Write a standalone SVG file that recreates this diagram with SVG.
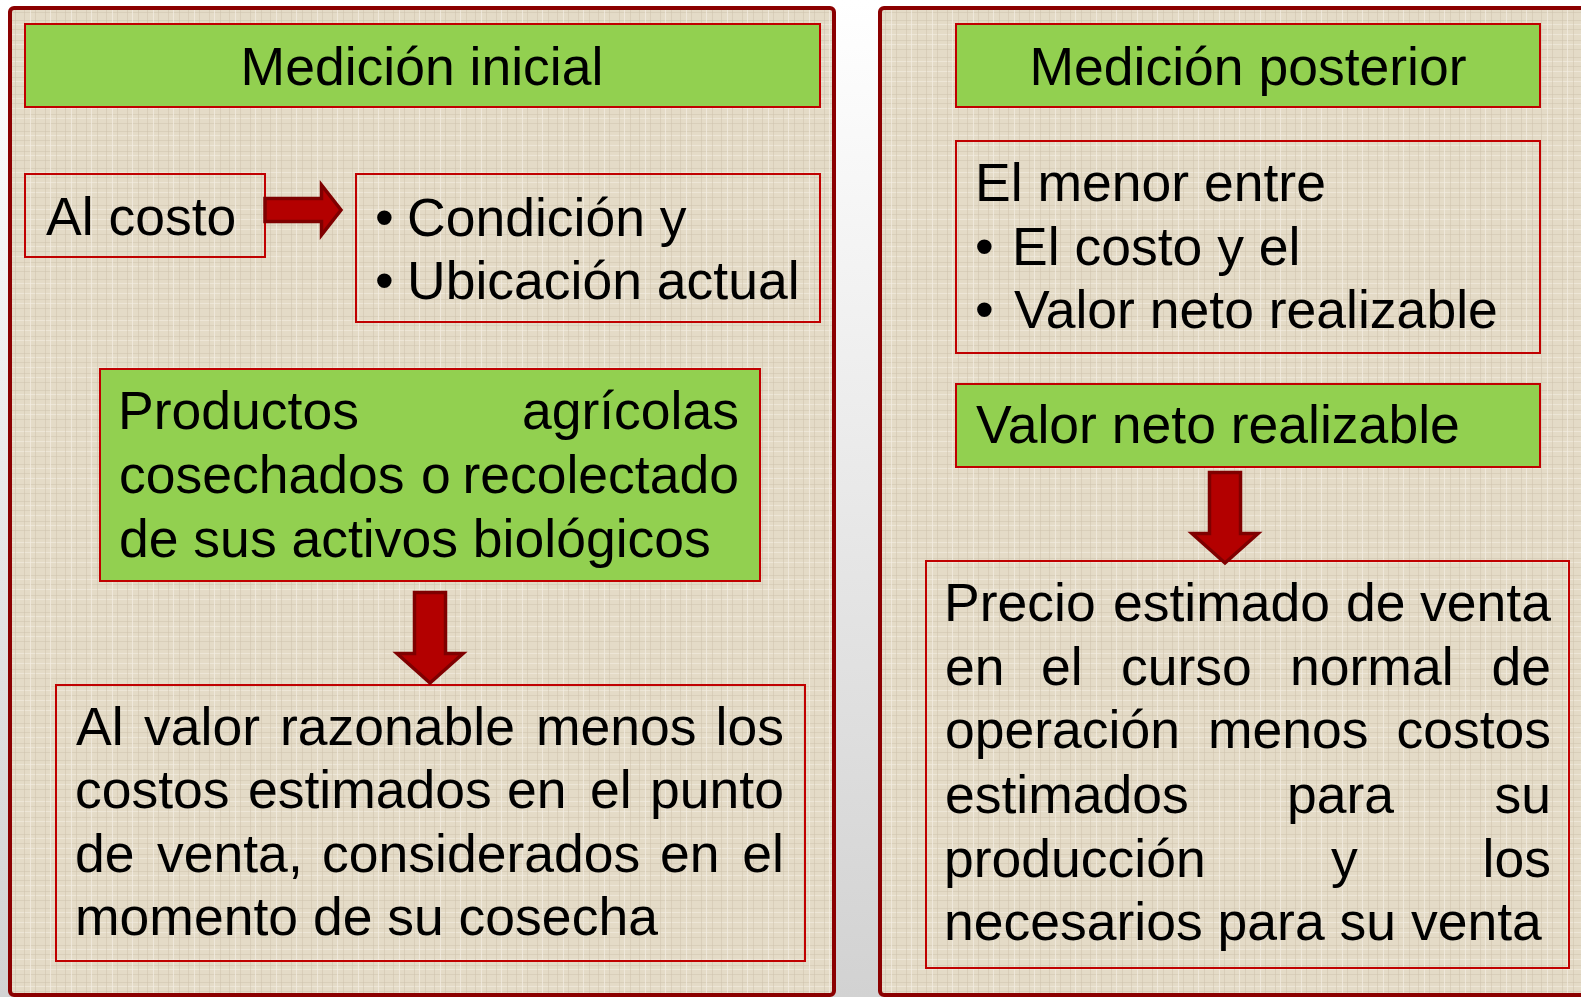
<svg xmlns="http://www.w3.org/2000/svg" width="1581" height="997" viewBox="0 0 1581 997">
<defs>
<linearGradient id="bg" x1="0" y1="0" x2="0" y2="1">
<stop offset="0" stop-color="#ffffff"/>
<stop offset="1" stop-color="#d2d2d2"/>
</linearGradient>
<pattern id="linen" x="0" y="0" width="41" height="37" patternUnits="userSpaceOnUse">
<rect width="41" height="37" fill="#E4DBC7"/>
<g stroke-width="1" fill="none">
<path d="M0 3.5H41M0 12.5H41M0 20.5H41M0 29.5H41" stroke="#CFC4AE" stroke-opacity="0.55"/>
<path d="M0 7.5H41M0 24.5H41M0 34.5H41" stroke="#F2ECDF" stroke-opacity="0.7"/>
<path d="M4.5 0V37M15.5 0V37M24.5 0V37M35.5 0V37" stroke="#CDC2AB" stroke-opacity="0.5"/>
<path d="M9.5 0V37M30.5 0V37" stroke="#F4EFE4" stroke-opacity="0.7"/>
</g>
</pattern>
</defs>
<style>
.panel{fill:url(#linen);stroke:#8B0000;stroke-width:4}
.box{fill:none;stroke:#C00000;stroke-width:2}
.gbox{fill:#92D050;stroke:#C00000;stroke-width:2}
.t{font-family:"Liberation Sans",Arial,sans-serif;font-size:53.5px;fill:#000}
.e{text-anchor:end}
.m{text-anchor:middle}
.arrow{fill:#B30000;stroke:#7F0000;stroke-width:3.5;stroke-linejoin:miter}
</style>
<rect width="1581" height="997" fill="url(#bg)"/>
<g id="panel-left">
<rect class="panel" x="10" y="8" width="824" height="987" rx="4"/>
</g>
<g id="panel-right">
<rect class="panel" x="880" y="8" width="760" height="987" rx="4"/>
</g>
<g id="node-medicion-inicial">
<rect class="gbox" x="25" y="24" width="795" height="83"/>
<text class="t m" x="422" y="85">Medición inicial</text>
</g>
<g id="node-al-costo">
<rect class="box" x="25" y="174" width="240" height="83"/>
<text class="t" x="46" y="235">Al costo</text>
</g>
<g id="node-condicion">
<rect class="box" x="356" y="174" width="464" height="148"/>
<text class="t" x="375" y="236">•</text>
<text class="t" x="407" y="236">Condición y</text>
<text class="t" x="375" y="299">•</text>
<text class="t" x="407" y="299">Ubicación actual</text>
</g>
<g id="node-productos">
<rect class="gbox" x="100" y="369" width="660" height="212"/>
<text class="t" x="118" y="429">Productos</text>
<text class="t e" x="739" y="429">agrícolas</text>
<text class="t" x="119" y="493">cosechados</text>
<text class="t" x="421" y="493">o</text>
<text class="t e" x="739" y="493">recolectado</text>
<text class="t" x="119" y="557">de sus activos biológicos</text>
</g>
<g id="node-valor-razonable">
<rect class="box" x="56" y="685" width="749" height="276"/>
<text class="t" x="76" y="745">Al</text>
<text class="t" x="144" y="745">valor</text>
<text class="t" x="280" y="745">razonable</text>
<text class="t" x="536" y="745">menos</text>
<text class="t e" x="784" y="745">los</text>
<text class="t" x="75" y="808">costos</text>
<text class="t" x="248" y="808">estimados</text>
<text class="t" x="507" y="808">en</text>
<text class="t" x="590" y="808">el</text>
<text class="t e" x="784" y="808">punto</text>
<text class="t" x="75" y="872">de</text>
<text class="t" x="157" y="872">venta,</text>
<text class="t" x="322" y="872">considerados</text>
<text class="t" x="660" y="872">en</text>
<text class="t e" x="784" y="872">el</text>
<text class="t" x="75" y="935">momento de su cosecha</text>
</g>
<g id="node-medicion-posterior">
<rect class="gbox" x="956" y="24" width="584" height="83"/>
<text class="t m" x="1248" y="85">Medición posterior</text>
</g>
<g id="node-menor-entre">
<rect class="box" x="956" y="141" width="584" height="212"/>
<text class="t" x="975" y="201">El menor entre</text>
<text class="t" x="975" y="265">•</text>
<text class="t" x="1012" y="265">El costo y el</text>
<text class="t" x="975" y="328">•</text>
<text class="t" x="1014" y="328">Valor neto realizable</text>
</g>
<g id="node-vnr">
<rect class="gbox" x="956" y="384" width="584" height="83"/>
<text class="t" x="976" y="443">Valor neto realizable</text>
</g>
<g id="node-precio">
<rect class="box" x="926" y="561" width="643" height="407"/>
<text class="t" x="944" y="621">Precio</text>
<text class="t" x="1113" y="621">estimado</text>
<text class="t" x="1346" y="621">de</text>
<text class="t e" x="1551" y="621">venta</text>
<text class="t" x="945" y="685">en</text>
<text class="t" x="1041" y="685">el</text>
<text class="t" x="1121" y="685">curso</text>
<text class="t" x="1290" y="685">normal</text>
<text class="t e" x="1551" y="685">de</text>
<text class="t" x="945" y="748">operación</text>
<text class="t" x="1208" y="748">menos</text>
<text class="t e" x="1551" y="748">costos</text>
<text class="t" x="945" y="813">estimados</text>
<text class="t" x="1287" y="813">para</text>
<text class="t e" x="1551" y="813">su</text>
<text class="t" x="944" y="877">producción</text>
<text class="t" x="1331" y="877">y</text>
<text class="t e" x="1551" y="877">los</text>
<text class="t" x="944" y="940">necesarios para su venta</text>
</g>
<g id="connectors">
<path class="arrow" d="M265 198.5H321.5V185L341 210L321.5 235V221.5H265Z"/>
<path class="arrow" d="M414.5 592.5H445.5V653.5H463L430 683L397 653.5H414.5Z"/>
<path class="arrow" d="M1209.5 472.5H1240.5V533.5H1258L1225 563L1192 533.5H1209.5Z"/>
</g>
</svg>
